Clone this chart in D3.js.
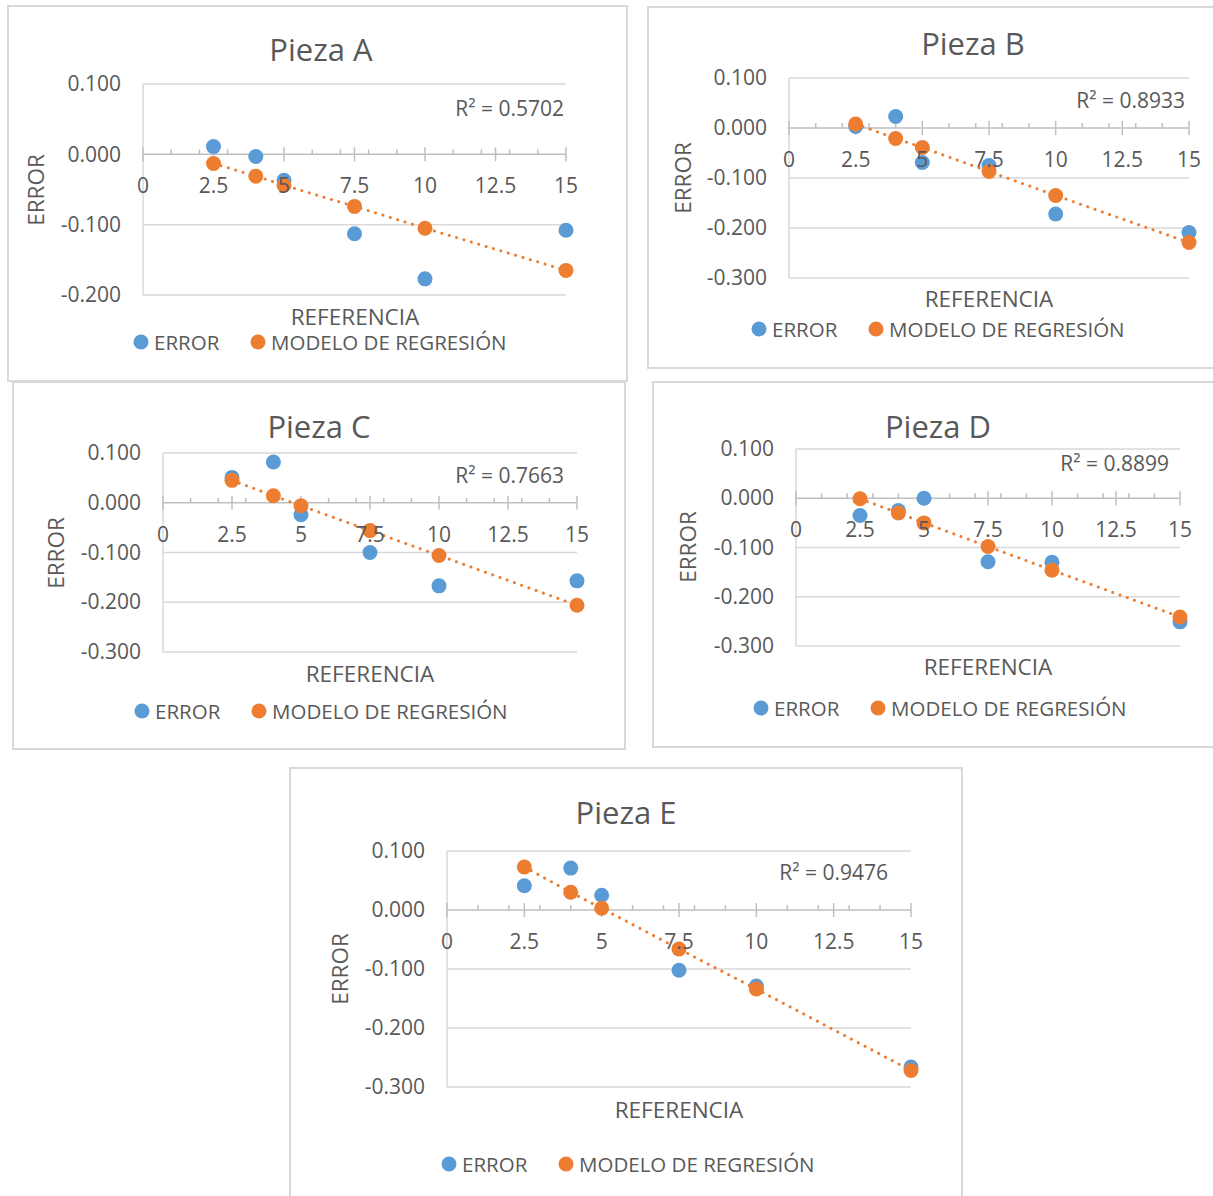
<!DOCTYPE html>
<html>
<head>
<meta charset="utf-8">
<script src="https://cdn.jsdelivr.net/npm/d3@7"></script>
<style>
  body { margin: 0; background: #fff; }
  text { font-family: "Open Sans", sans-serif; fill: #595959; }
</style>
</head>
<body>
<div id="chart"></div>
<script>
// datos
const referencia = [2.5, 4, 5, 7.5, 10, 15];
const piezas = ["Pieza A", "Pieza B", "Pieza C", "Pieza D", "Pieza E"];
const errorA  = [0.011, -0.003, -0.037, -0.113, -0.177, -0.108];
const modeloA = [-0.013, -0.031, -0.044, -0.074, -0.105, -0.165];
const errorB  = [0.003, 0.023, -0.069, -0.075, -0.172, -0.209];
const modeloB = [0.008, -0.021, -0.039, -0.087, -0.135, -0.229];
const errorC  = [0.051, 0.082, -0.024, -0.100, -0.167, -0.157];
const modeloC = [0.045, 0.014, -0.006, -0.056, -0.106, -0.206];
const errorD  = [-0.035, -0.025, 0.000, -0.129, -0.130, -0.251];
const modeloD = [-0.001, -0.030, -0.050, -0.098, -0.146, -0.241];
const errorE  = [0.041, 0.071, 0.025, -0.102, -0.129, -0.266];
const modeloE = [0.073, 0.030, 0.003, -0.066, -0.134, -0.272];
const r2 = ["0.5702", "0.8933", "0.7663", "0.8899", "0.9476"];
const xTicks = [0, 2.5, 5, 7.5, 10, 12.5, 15];
const xMinor = [1, 2, 3, 4, 6, 7, 8, 9, 11, 12, 13, 14];
const yTicksA = [0.1, 0, -0.1, -0.2];
const yTicks = [0.1, 0, -0.1, -0.2, -0.3];
const series = ["ERROR", "MODELO DE REGRESIÓN"];

const errores = [errorA, errorB, errorC, errorD, errorE];
const modelos = [modeloA, modeloB, modeloC, modeloD, modeloE];

const blue = "#5b9bd5", orange = "#ed7d31";
const fmt = d3.formatLocale({decimal: ".", thousands: ",", grouping: [3], currency: ["", ""], minus: "-"}).format(".3f");

// posicion de cada grafica en la imagen
const layout = [
  {box: [8, 6, 627, 381], x: [143, 566], y: [295, 84], dom: [-0.2, 0.1], ticks: yTicksA,
   title: [321, 50], r2: [564, 108], xt: [355, 317], yt: [36, 190], leg: [141, 342]},
  {box: [648, 7, 1230, 368], x: [789, 1189], y: [278, 78], dom: [-0.3, 0.1], ticks: yTicks,
   title: [973, 44], r2: [1185, 100], xt: [989, 299], yt: [683, 178], leg: [759, 329]},
  {box: [13, 382, 625, 749], x: [163, 577], y: [652, 453], dom: [-0.3, 0.1], ticks: yTicks,
   title: [319, 427], r2: [564, 475], xt: [370, 674], yt: [56, 553], leg: [142, 711]},
  {box: [653, 382, 1230, 747], x: [796, 1180], y: [646, 449], dom: [-0.3, 0.1], ticks: yTicks,
   title: [938, 427], r2: [1169, 463], xt: [988, 667], yt: [688, 547], leg: [761, 708]},
  {box: [290, 768, 962, 1230], x: [447, 911], y: [1087, 851], dom: [-0.3, 0.1], ticks: yTicks,
   title: [626, 813], r2: [888, 872], xt: [679, 1110], yt: [340, 969], leg: [449, 1164]}
];

const svg = d3.select("#chart").append("svg")
    .attr("width", 1213)
    .attr("height", 1196);

svg.append("rect").attr("width", 1213).attr("height", 1196).attr("fill", "#fff");

layout.forEach(function(L, i) {
    const g = svg.append("g");
    const x = d3.scaleLinear().domain([0, 15]).range(L.x);
    const y = d3.scaleLinear().domain(L.dom).range(L.y);

    g.append("rect")
        .attr("x", L.box[0]).attr("y", L.box[1])
        .attr("width", L.box[2] - L.box[0]).attr("height", L.box[3] - L.box[1])
        .attr("fill", "#fff")
        .attr("stroke", "#d9d9d9")
        .attr("stroke-width", 2);

    // lineas de division
    g.selectAll(".grid")
        .data(L.ticks.filter(d => d != 0))
        .enter().append("line")
        .attr("x1", L.x[0]).attr("x2", L.x[1])
        .attr("y1", d => y(d)).attr("y2", d => y(d))
        .attr("stroke", "#d9d9d9")
        .attr("stroke-width", 1.5);

    // eje vertical
    g.append("line")
        .attr("x1", L.x[0]).attr("x2", L.x[0])
        .attr("y1", L.y[0]).attr("y2", L.y[1])
        .attr("stroke", "#d9d9d9")
        .attr("stroke-width", 1.5);

    const yAxis = g.append("g")
        .attr("transform", "translate(" + L.x[0] + ",0)")
        .call(d3.axisLeft(y).tickValues(L.ticks).tickFormat(fmt).tickSize(0).tickPadding(22));
    yAxis.select(".domain").remove();
    yAxis.selectAll("text").style("font-size", "21px").attr("font-family", null).attr("fill", null);

    // eje horizontal en y = 0
    const y0 = y(0);
    g.append("line")
        .attr("x1", L.x[0]).attr("x2", L.x[1])
        .attr("y1", y0).attr("y2", y0)
        .attr("stroke", "#bfbfbf")
        .attr("stroke-width", 1.5);
    g.selectAll(".minor")
        .data(xMinor)
        .enter().append("line")
        .attr("x1", d => x(d)).attr("x2", d => x(d))
        .attr("y1", y0 - 5).attr("y2", y0)
        .attr("stroke", "#bfbfbf")
        .attr("stroke-width", 1.5);
    g.selectAll(".major")
        .data(xTicks)
        .enter().append("line")
        .attr("x1", d => x(d)).attr("x2", d => x(d))
        .attr("y1", y0 - 7).attr("y2", y0 + 7)
        .attr("stroke", "#bfbfbf")
        .attr("stroke-width", 1.5);

    const pts = referencia.map((r, k) => ({r: r, e: errores[i][k], m: modelos[i][k]}));

    g.selectAll(".err")
        .data(pts)
        .enter().append("circle")
        .attr("cx", d => x(d.r)).attr("cy", d => y(d.e))
        .attr("r", 7.5)
        .attr("fill", blue);

    g.selectAll(".mod")
        .data(pts)
        .enter().append("circle")
        .attr("cx", d => x(d.r)).attr("cy", d => y(d.m))
        .attr("r", 7.5)
        .attr("fill", orange);

    // linea de tendencia punteada
    g.append("path")
        .datum(pts)
        .attr("d", d3.line().x(d => x(d.r)).y(d => y(d.m)))
        .attr("fill", "none")
        .attr("stroke", orange)
        .attr("stroke-width", 3)
        .attr("stroke-linecap", "round")
        .attr("stroke-dasharray", "0.1 7.6");

    // etiquetas del eje x (encima de los puntos)
    g.selectAll(".xlab")
        .data(xTicks)
        .enter().append("text")
        .attr("x", d => x(d))
        .attr("y", y0 + 39)
        .attr("text-anchor", "middle")
        .style("font-size", "21px")
        .text(d => d);

    g.append("text")
        .attr("x", L.title[0]).attr("y", L.title[1] + 11)
        .attr("text-anchor", "middle")
        .style("font-size", "31px")
        .text(piezas[i]);

    g.append("text")
        .attr("x", L.r2[0]).attr("y", L.r2[1] + 8)
        .attr("text-anchor", "end")
        .style("font-size", "21px")
        .text("R² = " + r2[i]);

    g.append("text")
        .attr("x", L.xt[0]).attr("y", L.xt[1] + 8)
        .attr("text-anchor", "middle")
        .style("font-size", "22.5px")
        .text("REFERENCIA");

    g.append("text")
        .attr("transform", "translate(" + (L.yt[0] + 8) + "," + L.yt[1] + ") rotate(-90)")
        .attr("text-anchor", "middle")
        .style("font-size", "22.5px")
        .text("ERROR");

    // leyenda
    const leg = g.selectAll(".leg")
        .data(series)
        .enter().append("g")
        .attr("transform", (d, k) => "translate(" + (L.leg[0] + k * 117) + "," + L.leg[1] + ")");
    leg.append("circle").attr("r", 7.5).attr("fill", (d, k) => k == 0 ? blue : orange);
    leg.append("text")
        .attr("x", 13).attr("y", 7.5)
        .style("font-size", "20.5px")
        .text(d => d);
});
</script>
</body>
</html>
